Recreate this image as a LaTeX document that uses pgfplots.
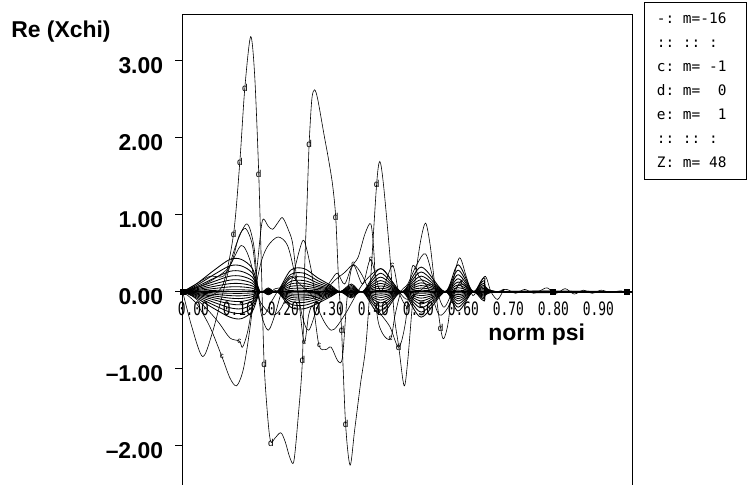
\documentclass[border=0pt]{standalone}
\usepackage{pgfplots}
\pgfplotsset{compat=1.18}
\usepackage{pgfplotstable}
\usepackage{fontspec}
\setmainfont{Liberation Sans}
\newfontfamily\plotfont[FakeStretch=0.70]{DejaVu Sans Mono}
\newfontfamily\legfont{DejaVu Sans Mono}

\pgfplotstableread{
x u1 u2 u3 u4 u5 u6 u7 u8 l1 l2 l3 l4 l5 l6 l7 l8
0 0 0 0 0 0 0 0 0 0 0 0 0 0 0 0 0
0.03 .1 .08 .063 .048 .036 .025 .015 .006 -.08 -.064 -.05 -.038 -.029 -.02 -.012 -.005
0.07 .28 .224 .176 .134 .101 .07 .042 .017 -.22 -.176 -.139 -.106 -.079 -.055 -.033 -.013
0.105 .42 .336 .265 .202 .151 .105 .063 .025 -.33 -.264 -.208 -.158 -.119 -.083 -.05 -.02
0.13 .42 .336 .265 .202 .151 .105 .063 .025 -.35 -.28 -.221 -.168 -.126 -.088 -.053 -.021
0.155 .3 .24 .189 .144 .108 .075 .045 .018 -.25 -.2 -.158 -.12 -.09 -.063 -.038 -.015
0.172 0 0 0 0 0 0 0 0 0 0 0 0 0 0 0 0
0.19 .05 .04 .032 .024 .018 .013 .008 .003 -.04 -.032 -.025 -.019 -.014 -.01 -.006 -.002
0.21 0 0 0 0 0 0 0 0 0 0 0 0 0 0 0 0
0.24 .28 .224 .176 .134 .101 .07 .042 .017 -.2 -.16 -.126 -.096 -.072 -.05 -.03 -.012
0.27 .3 .24 .189 .144 .108 .075 .045 .018 -.22 -.176 -.139 -.106 -.079 -.055 -.033 -.013
0.30 .18 .144 .113 .086 .065 .045 .027 .011 -.15 -.12 -.095 -.072 -.054 -.038 -.023 -.009
0.33 .08 .064 .05 .038 .029 .02 .012 .005 -.06 -.048 -.038 -.029 -.022 -.015 -.009 -.004
0.35 0 0 0 0 0 0 0 0 0 0 0 0 0 0 0 0
0.375 .1 .08 .063 .048 .036 .025 .015 .006 -.08 -.064 -.05 -.038 -.029 -.02 -.012 -.005
0.40 0 0 0 0 0 0 0 0 0 0 0 0 0 0 0 0
0.44 .3 .24 .189 .144 .108 .075 .045 .018 -.3 -.24 -.189 -.144 -.108 -.075 -.045 -.018
0.487 0 0 0 0 0 0 0 0 0 0 0 0 0 0 0 0
0.53 .32 .256 .202 .154 .115 .08 .048 .019 -.33 -.264 -.208 -.158 -.119 -.083 -.05 -.02
0.583 0 0 0 0 0 0 0 0 0 0 0 0 0 0 0 0
0.612 .35 .28 .221 .168 .126 .088 .053 .021 -.25 -.2 -.158 -.12 -.09 -.063 -.038 -.015
0.645 0 0 0 0 0 0 0 0 0 0 0 0 0 0 0 0
0.67 .18 .144 .113 .086 .065 .045 .027 .011 -.12 -.096 -.076 -.058 -.043 -.03 -.018 -.007
0.70 0 0 0 0 0 0 0 0 0 0 0 0 0 0 0 0
1.0 0 0 0 0 0 0 0 0 0 0 0 0 0 0 0 0
}\bundle

\begin{document}
\begin{tikzpicture}
\useasboundingbox (-182.7bp,7.1bp) rectangle (569.3bp,492.1bp);
\begin{axis}[
  at={(0,0)}, anchor=south west,
  scale only axis, width=450bp, height=477.8bp,
  xmin=0, xmax=1, ymin=-2.6, ymax=3.6,
  xtick=\empty,
  ytick={-2,-1,0,1,2,3},
  yticklabels={\textendash2.00,\textendash1.00,0.00,1.00,2.00,3.00},
  ytick pos=left, tick align=outside, major tick length=7.7bp,
  tick style={line width=0.8pt, black},
  yticklabel style={font=\fontsize{23}{26}\selectfont\bfseries, inner sep=0pt, xshift=-11.7bp, yshift=-4.6bp},
  axis line style={line width=1pt},
  every axis plot/.append style={black, line width=0.6pt},
]
\pgfplotsinvokeforeach{u1,u2,u3,u4,u5,u6,u7,u8,l1,l2,l3,l4,l5,l6,l7,l8}{
  \addplot[smooth, line width=0.85pt] table[x=x, y=#1] {\bundle};
}
\addplot[line width=1.5pt] coordinates {(0,0) (0.99,0)};
\addplot[smooth] coordinates {(0.70,0) (0.72,0.03) (0.74,-0.02) (0.76,0.03) (0.78,-0.02) (0.80,0.03) (0.81,0.05) (0.83,-0.02) (0.85,0.04) (0.87,-0.03) (0.89,0.02) (0.91,-0.02) (0.93,0.02) (0.95,-0.01) (0.97,0.01) (0.99,0)};
% secondary curves
\addplot[smooth] coordinates {(0,0) (0.02,-0.45) (0.044,-0.84) (0.065,-0.55) (0.09,0) (0.115,0.55) (0.142,0.88) (0.158,0.6) (0.168,0) (0.18,-0.3) (0.2,-0.1) (0.22,0.05) (0.26,0) (1,0)};
\addplot[smooth] coordinates {(0,0) (0.03,-0.15) (0.06,-0.45) (0.087,-0.84) (0.105,-1.12) (0.12,-1.22) (0.135,-1.0) (0.15,-0.45) (0.165,0.3) (0.177,0.92) (0.19,0.85) (0.2,0.81) (0.212,0.9) (0.222,0.96) (0.235,0.8) (0.245,0.6) (0.258,-0.1) (0.27,-0.66) (0.28,-0.3) (0.29,-0.2) (0.303,-0.7) (0.318,-0.75) (0.33,-0.72) (0.345,-0.9) (0.355,-0.85) (0.365,-0.1) (0.375,0.3) (0.39,0.45) (0.405,0.75) (0.418,0.88) (0.425,0.5) (0.432,-0.3) (0.445,-0.55) (0.462,-0.61) (0.472,-0.3) (0.485,0) (0.5,0.1) (0.52,0.35) (0.54,0.49) (0.56,0.1) (0.58,-0.2) (0.6,0) (0.62,0.1) (0.65,0) (0.7,0) (1,0)};
\addplot[smooth] coordinates {(0,0) (0.02,-0.05) (0.05,-0.2) (0.08,-0.4) (0.105,-0.6) (0.126,-0.64) (0.133,-0.72) (0.145,-0.5) (0.16,0) (0.175,0.4) (0.19,0.6) (0.212,0.71) (0.233,0.6) (0.25,0.2) (0.265,-0.3) (0.28,-0.5) (0.3,-0.2) (0.33,0.1) (0.36,0.25) (0.38,0.35) (0.4,0.2) (0.43,-0.2) (0.46,-0.45) (0.48,-0.72) (0.495,-0.4) (0.51,0.32) (0.525,0.2) (0.55,0) (0.57,-0.3) (0.59,-0.2) (0.62,0.15) (0.65,0) (1,0)};
\addplot[smooth] coordinates {(0,0) (0.03,0.1) (0.06,0.2) (0.09,0.2) (0.11,0.4) (0.125,0.72) (0.14,0.82) (0.155,0.6) (0.165,0.1) (0.175,-0.3) (0.19,-0.5) (0.205,-0.3) (0.22,0) (0.24,0.2) (0.26,0.1) (0.28,0) (0.3,-0.1) (0.33,0.15) (0.344,0.24) (0.36,0.1) (0.379,0.35) (0.4,0.1) (0.418,0.42) (0.44,0) (0.466,0.34) (0.48,0) (0.5,-0.2) (0.52,0) (0.56,0) (1,0)};
\addplot[smooth] coordinates {(0,0) (0.05,0.1) (0.1,0.3) (0.13,0.6) (0.15,0.4) (0.17,-0.1) (0.2,-0.3) (0.22,-0.2) (0.24,0.1) (0.26,0.55) (0.27,0.66) (0.285,0.3) (0.3,-0.2) (0.33,-0.5) (0.36,-0.3) (0.4,0.1) (0.44,0.3) (0.47,0.1) (0.5,-0.1) (0.55,0.1) (0.6,0) (1,0)};
% main curve d (m = 0)
\addplot[smooth, tension=0.5] coordinates {(0,0) (0.03,0.02) (0.06,-0.05) (0.09,0.1) (0.113,0.75) (0.127,1.69) (0.138,2.64) (0.151,3.31) (0.16,2.8) (0.169,1.53) (0.175,0.3) (0.181,-0.94) (0.19,-1.7) (0.196,-1.95) (0.205,-1.9) (0.218,-1.83) (0.228,-1.95) (0.238,-2.15) (0.247,-2.2) (0.257,-1.6) (0.266,-0.89) (0.271,0.3) (0.276,1.1) (0.281,1.92) (0.287,2.5) (0.293,2.62) (0.30,2.5) (0.314,2.04) (0.324,1.72) (0.333,1.39) (0.34,0.97) (0.346,0.2) (0.353,-0.49) (0.362,-1.72) (0.372,-2.25) (0.382,-1.8) (0.395,-1.2) (0.407,-0.7) (0.418,0.2) (0.431,1.4) (0.438,1.69) (0.446,1.4) (0.46,0.5) (0.47,-0.3) (0.48,-0.71) (0.492,-1.22) (0.50,-0.9) (0.51,-0.2) (0.52,0.32) (0.53,0.7) (0.54,0.89) (0.55,0.6) (0.56,0.1) (0.573,-0.47) (0.58,-0.61) (0.59,-0.4) (0.60,0.1) (0.615,0.44) (0.63,0.2) (0.645,-0.05) (0.66,0.1) (0.673,0.2) (0.685,0) (0.70,-0.1) (0.715,0.03) (0.73,0) (1.0,0)};
\addplot[only marks, mark=text, text mark={\fontsize{10}{10}\selectfont d}] coordinates {(0.113,0.75) (0.127,1.69) (0.138,2.64) (0.169,1.53) (0.181,-0.94) (0.196,-1.96) (0.266,-0.89) (0.281,1.92) (0.34,0.97) (0.353,-0.49) (0.362,-1.72) (0.431,1.4) (0.48,-0.71) (0.573,-0.47)};
\addplot[only marks, mark=text, text mark={\fontsize{8}{8}\selectfont c}] coordinates {(0.087,-0.84) (0.126,-0.64) (0.303,-0.7) (0.462,-0.61) (0.379,0.35) (0.418,0.42) (0.466,0.34) (0.27,-0.66)};
\addplot[only marks, mark=square*, mark size=2.4pt] coordinates {(0,0) (0.823,0) (0.987,0)};
\end{axis}
% x tick labels along the zero line
\foreach \v/\t in {0/0.00,45/0.10,90/0.20,135/0.30,180/0.40,225/0.50,270/0.60,315/0.70,360/0.80,405/0.90}
  \node[anchor=north west, inner sep=0pt, font=\plotfont\fontsize{18.5}{18.5}\selectfont] at (\v bp-5bp,190.1bp) {\t};
\node[font=\fontsize{23}{26}\selectfont\bfseries] at (-121.7bp,460.6bp) {Re (Xchi)};
\node[font=\fontsize{23}{26}\selectfont\bfseries, anchor=base] at (354bp,152bp) {norm psi};
% legend box
\draw[line width=1pt] (461.3bp,312.1bp) rectangle (563.3bp,489.1bp);
\foreach \y/\t in {468.3/{-:~m=-16},444.3/{::~::~:},420.3/{c:~m=~-1},396.3/{d:~m=~~0},372.3/{e:~m=~~1},348.3/{::~::~:},324.3/{Z:~m=~48}}
  \node[anchor=base west, inner sep=0pt, font=\legfont\fontsize{14.5}{15}\selectfont] at (474bp,\y bp) {\t};
\end{tikzpicture}
\end{document}
